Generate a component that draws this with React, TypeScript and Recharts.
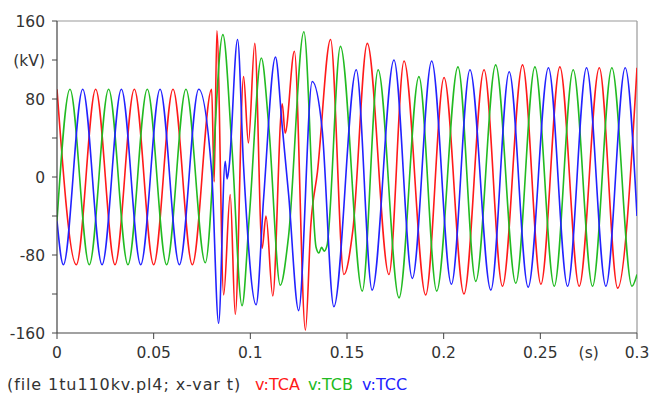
import React from "react";
import { LineChart, Line, XAxis, YAxis, ReferenceLine } from "recharts";

// ---- Data (time in s, voltage in kV) ----
const TCA_T = [0, 0.01, 0.02, 0.03, 0.04, 0.05, 0.06, 0.07, 0.08, 0.0813, 0.0827, 0.0862, 0.0896, 0.0922, 0.0965, 0.099, 0.1023, 0.1061, 0.1081, 0.1116, 0.1165, 0.118, 0.1228, 0.1285, 0.1313, 0.1347, 0.1415, 0.1484, 0.153, 0.1605, 0.1717, 0.1795, 0.1907, 0.2002, 0.2105, 0.2209, 0.2304, 0.2408, 0.2503, 0.2601, 0.2701, 0.2805, 0.29, 0.3];
const TCA_V = [90, -90, 90, -90, 90, -90, 90, -90, 90, -5, 150, -121, -18, -141, 103, 35, 137, -73, -40, -122, 75, 45, 129, -157, -49, 5, 141, -100, -55, 137, -100, 119, -121, 102, -120, 110, -112, 115, -110, 113, -112, 112, -114, 112];

const TCB_T = [0, 0.0067, 0.0167, 0.0267, 0.0367, 0.0467, 0.0567, 0.0667, 0.0767, 0.0858, 0.0905, 0.0957, 0.0995, 0.1057, 0.1095, 0.1155, 0.1197, 0.1277, 0.134, 0.1355, 0.1368, 0.1382, 0.1397, 0.1466, 0.1579, 0.1661, 0.1769, 0.1872, 0.1964, 0.2074, 0.2166, 0.2269, 0.2373, 0.2472, 0.2572, 0.267, 0.277, 0.287, 0.2974, 0.3];
const TCB_V = [-45, 90, -90, 90, -90, 90, -90, 90, -88, 146, 30, -132, -40, 122, 53, -111, -62, 149, -72, -78, -72, -76, -70, 134, -117, 110, -124, 103, -117, 113, -107, 115, -109, 113, -112, 110, -112, 112, -112, -100];

const TCC_T = [0, 0.0033, 0.0133, 0.0233, 0.0333, 0.0433, 0.0533, 0.0633, 0.0733, 0.08, 0.0836, 0.087, 0.088, 0.089, 0.0934, 0.0965, 0.103, 0.1069, 0.113, 0.1164, 0.1198, 0.125, 0.132, 0.1371, 0.1432, 0.1548, 0.163, 0.1743, 0.1838, 0.1938, 0.204, 0.2136, 0.2244, 0.2339, 0.2437, 0.2542, 0.2641, 0.2739, 0.2839, 0.2939, 0.3];
const TCC_V = [-45, -90, 90, -90, 90, -90, 90, -90, 90, 5, -150, 16, -2, 10, 141, 11, -131, -21, 123, 54, -18, -137, 98, 50, -133, 110, -116, 120, -104, 119, -110, 110, -116, 108, -113, 112, -112, 112, -112, 112, -40];

const Y_TICKS = [-160, -120, -80, -40, 0, 40, 80, 120, 160];
const Y_LABELS: Record<string, string> = { "160": "160", "120": "(kV)", "80": "80", "0": "0", "-80": "-80", "-160": "-160" };
const X_TICKS = [0, 0.05, 0.1, 0.15, 0.2, 0.25, 0.275, 0.3];
const X_LABELS: Record<string, string> = { "0": "0", "0.05": "0.05", "0.1": "0.1", "0.15": "0.15", "0.2": "0.2", "0.25": "0.25", "0.275": "(s)", "0.3": "0.3" };

const FILE_LABEL = "(file 1tu110kv.pl4; x-var t)";
const SERIES = [
  { name: "v:TCA", color: "#ff1a1a", t: TCA_T, v: TCA_V, left: 255 },
  { name: "v:TCB", color: "#22bb22", t: TCB_T, v: TCB_V, left: 308 },
  { name: "v:TCC", color: "#2222ff", t: TCC_T, v: TCC_V, left: 362 },
];

const FONT = "'DejaVu Sans', Verdana, sans-serif";

const zip = (t: number[], v: number[]) => t.map((tt, i) => ({ t: tt, v: v[i] }));

const XTick = (props: any) => {
  const { x, y, payload } = props;
  const label = X_LABELS[String(payload.value)] ?? "";
  const isUnit = payload.value === 0.275;
  return (
    <g>
      {!isUnit && <line x1={x} x2={x} y1={y - 8} y2={y - 2} stroke="#444" strokeWidth={1} />}
      <text x={x} y={y} dy={17} textAnchor="middle" fill="#333" fontSize={15.5} fontFamily={FONT}>
        {label}
      </text>
    </g>
  );
};

export default function App() {
  return (
    <div style={{ position: "absolute", left: 0, top: 0, width: 651, height: 401, background: "#fff" }}>
      <LineChart width={651} height={401} margin={{ top: 21, right: 14, bottom: 38, left: 0 }}>
        <XAxis
          type="number"
          dataKey="t"
          domain={[0, 0.3]}
          ticks={X_TICKS}
          interval={0}
          allowDataOverflow
          height={30}
          tickSize={6}
          tickMargin={2}
          tickLine={false}
          tick={<XTick />}
          axisLine={{ stroke: "#444", strokeWidth: 1.2 }}
        />
        <YAxis
          type="number"
          domain={[-160, 160]}
          ticks={Y_TICKS}
          interval={0}
          allowDataOverflow
          width={57}
          tickSize={5}
          tickMargin={7}
          tickFormatter={(v: number) => Y_LABELS[String(v)] ?? ""}
          tick={{ fill: "#333", fontSize: 15.5, fontFamily: FONT }}
          tickLine={{ stroke: "#444" }}
          axisLine={{ stroke: "#444", strokeWidth: 1.2 }}
        />
        <ReferenceLine y={160} stroke="#999" strokeWidth={1.2} />
        <ReferenceLine x={0.3} stroke="#999" strokeWidth={1.2} />
        {SERIES.map((s) => (
          <Line
            key={s.name}
            data={zip(s.t, s.v)}
            dataKey="v"
            type="monotone"
            stroke={s.color}
            strokeWidth={1.6}
            dot={false}
            activeDot={false}
            isAnimationActive={false}
          />
        ))}
      </LineChart>
      <div
        style={{
          position: "absolute",
          left: 0,
          top: 375,
          width: 651,
          height: 22,
          fontFamily: FONT,
          fontSize: 16,
          color: "#333",
          whiteSpace: "pre",
        }}
      >
        <span style={{ position: "absolute", left: 7, top: 0, letterSpacing: 0.9 }}>{FILE_LABEL}</span>
        {SERIES.map((s) => (
          <span key={s.name} style={{ position: "absolute", left: s.left, top: 0, color: s.color }}>
            {s.name}
          </span>
        ))}
      </div>
    </div>
  );
}
